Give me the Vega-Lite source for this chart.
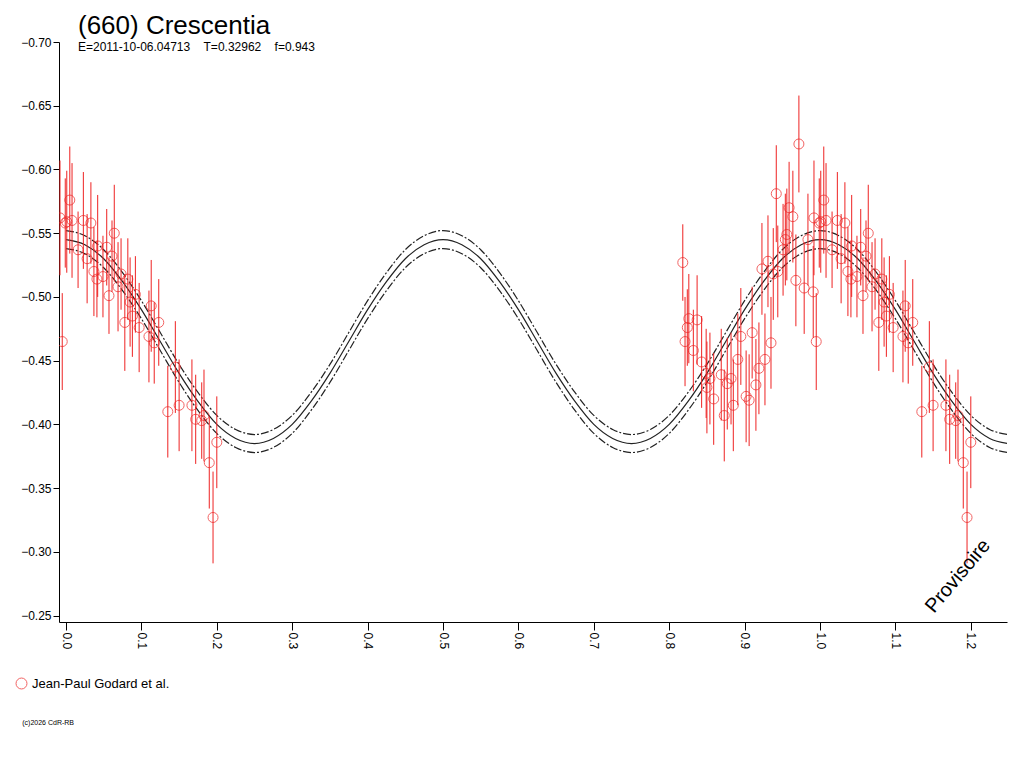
{
"$schema":"https://vega.github.io/schema/vega-lite/v6.json",
"width":948,"height":580,
"autosize":{"type":"none"},
"padding":{"left":59,"top":42,"right":17,"bottom":146},
"background":"white",
"config":{"font":"Liberation Sans","view":{"stroke":null}},
"title":{"text":"(660) Crescentia","subtitle":"E=2011-10-06.04713\u00a0\u00a0\u00a0\u00a0T=0.32962\u00a0\u00a0\u00a0\u00a0f=0.943","anchor":"start","frame":"group","dx":19,"offset":-17,"fontSize":26,"fontWeight":"normal","subtitleFontSize":12,"subtitlePadding":3,"color":"black","subtitleColor":"black"},
"datasets":{
"curve":[
{"x":0,"m":-0.545},{"x":0.025,"m":-0.541},{"x":0.05,"m":-0.530},{"x":0.075,"m":-0.512},{"x":0.1,"m":-0.490},{"x":0.125,"m":-0.465},{"x":0.15,"m":-0.440},{"x":0.175,"m":-0.418},{"x":0.2,"m":-0.400},{"x":0.225,"m":-0.389},
{"x":0.25,"m":-0.385},{"x":0.275,"m":-0.389},{"x":0.3,"m":-0.400},{"x":0.325,"m":-0.418},{"x":0.35,"m":-0.440},{"x":0.375,"m":-0.465},{"x":0.4,"m":-0.490},{"x":0.425,"m":-0.512},{"x":0.45,"m":-0.530},{"x":0.475,"m":-0.541},
{"x":0.5,"m":-0.545},{"x":0.525,"m":-0.541},{"x":0.55,"m":-0.530},{"x":0.575,"m":-0.512},{"x":0.6,"m":-0.490},{"x":0.625,"m":-0.465},{"x":0.65,"m":-0.440},{"x":0.675,"m":-0.418},{"x":0.7,"m":-0.400},{"x":0.725,"m":-0.389},
{"x":0.75,"m":-0.385},{"x":0.775,"m":-0.389},{"x":0.8,"m":-0.400},{"x":0.825,"m":-0.418},{"x":0.85,"m":-0.440},{"x":0.875,"m":-0.465},{"x":0.9,"m":-0.490},{"x":0.925,"m":-0.512},{"x":0.95,"m":-0.530},{"x":0.975,"m":-0.541},
{"x":1.0,"m":-0.545},{"x":1.025,"m":-0.541},{"x":1.05,"m":-0.530},{"x":1.075,"m":-0.512},{"x":1.1,"m":-0.490},{"x":1.125,"m":-0.465},{"x":1.15,"m":-0.440},{"x":1.175,"m":-0.418},{"x":1.2,"m":-0.400},{"x":1.225,"m":-0.389},{"x":1.25,"m":-0.385}
],
"obs":[
{"x":-0.008,"y":-0.562,"e":0.045},{"x":-0.005,"y":-0.465,"e":0.038},{"x":0.005,"y":-0.576,"e":0.042},{"x":-0.001,"y":-0.558,"e":0.035},{"x":0.001,"y":-0.559,"e":0.040},{"x":0.008,"y":-0.560,"e":0.045},{"x":0.023,"y":-0.560,"e":0.038},{"x":0.033,"y":-0.558,"e":0.032},{"x":0.016,"y":-0.537,"e":0.030},{"x":0.028,"y":-0.530,"e":0.035},
{"x":0.042,"y":-0.540,"e":0.040},{"x":0.054,"y":-0.539,"e":0.030},{"x":0.064,"y":-0.550,"e":0.038},{"x":0.061,"y":-0.532,"e":0.028},{"x":0.037,"y":-0.520,"e":0.035},{"x":0.041,"y":-0.514,"e":0.030},{"x":0.049,"y":-0.516,"e":0.032},{"x":0.057,"y":-0.501,"e":0.030},{"x":0.073,"y":-0.518,"e":0.028},{"x":0.082,"y":-0.514,"e":0.032},
{"x":0.069,"y":-0.508,"e":0.035},{"x":0.092,"y":-0.502,"e":0.030},{"x":0.085,"y":-0.496,"e":0.035},{"x":0.078,"y":-0.480,"e":0.038},{"x":0.088,"y":-0.485,"e":0.032},{"x":0.113,"y":-0.493,"e":0.036},{"x":0.097,"y":-0.476,"e":0.035},{"x":0.123,"y":-0.480,"e":0.034},{"x":0.110,"y":-0.469,"e":0.036},{"x":0.117,"y":-0.464,"e":0.032},
{"x":0.145,"y":-0.445,"e":0.036},{"x":0.135,"y":-0.410,"e":0.036},{"x":0.150,"y":-0.415,"e":0.036},{"x":0.167,"y":-0.415,"e":0.036},{"x":0.172,"y":-0.404,"e":0.035},{"x":0.183,"y":-0.407,"e":0.036},{"x":0.180,"y":-0.403,"e":0.030},{"x":0.200,"y":-0.386,"e":0.036},{"x":0.190,"y":-0.370,"e":0.036},{"x":0.195,"y":-0.327,"e":0.036},
{"x":0.992,"y":-0.562,"e":0.045},{"x":0.995,"y":-0.465,"e":0.038},{"x":1.005,"y":-0.576,"e":0.042},{"x":0.999,"y":-0.558,"e":0.035},{"x":1.001,"y":-0.559,"e":0.040},{"x":1.008,"y":-0.560,"e":0.045},{"x":1.023,"y":-0.560,"e":0.038},{"x":1.033,"y":-0.558,"e":0.032},{"x":1.016,"y":-0.537,"e":0.030},{"x":1.028,"y":-0.530,"e":0.035},
{"x":1.042,"y":-0.540,"e":0.040},{"x":1.054,"y":-0.539,"e":0.030},{"x":1.064,"y":-0.550,"e":0.038},{"x":1.061,"y":-0.532,"e":0.028},{"x":1.037,"y":-0.520,"e":0.035},{"x":1.041,"y":-0.514,"e":0.030},{"x":1.049,"y":-0.516,"e":0.032},{"x":1.057,"y":-0.501,"e":0.030},{"x":1.073,"y":-0.518,"e":0.028},{"x":1.082,"y":-0.514,"e":0.032},
{"x":1.069,"y":-0.508,"e":0.035},{"x":1.092,"y":-0.502,"e":0.030},{"x":1.085,"y":-0.496,"e":0.035},{"x":1.078,"y":-0.480,"e":0.038},{"x":1.088,"y":-0.485,"e":0.032},{"x":1.113,"y":-0.493,"e":0.036},{"x":1.097,"y":-0.476,"e":0.035},{"x":1.123,"y":-0.480,"e":0.034},{"x":1.110,"y":-0.469,"e":0.036},{"x":1.117,"y":-0.464,"e":0.032},
{"x":1.145,"y":-0.445,"e":0.036},{"x":1.135,"y":-0.410,"e":0.036},{"x":1.150,"y":-0.415,"e":0.036},{"x":1.167,"y":-0.415,"e":0.036},{"x":1.172,"y":-0.404,"e":0.035},{"x":1.183,"y":-0.407,"e":0.036},{"x":1.180,"y":-0.403,"e":0.030},{"x":1.200,"y":-0.386,"e":0.036},{"x":1.190,"y":-0.370,"e":0.036},{"x":1.195,"y":-0.327,"e":0.036},
{"x":0.818,"y":-0.527,"e":0.030},{"x":0.826,"y":-0.483,"e":0.035},{"x":0.824,"y":-0.476,"e":0.030},{"x":0.837,"y":-0.482,"e":0.035},{"x":0.821,"y":-0.465,"e":0.035},{"x":0.832,"y":-0.458,"e":0.032},{"x":0.843,"y":-0.449,"e":0.036},{"x":0.849,"y":-0.440,"e":0.035},{"x":0.854,"y":-0.436,"e":0.036},{"x":0.850,"y":-0.429,"e":0.036},
{"x":0.869,"y":-0.439,"e":0.036},{"x":0.859,"y":-0.420,"e":0.036},{"x":0.877,"y":-0.432,"e":0.036},{"x":0.882,"y":-0.436,"e":0.036},{"x":0.873,"y":-0.407,"e":0.036},{"x":0.885,"y":-0.415,"e":0.036},{"x":0.891,"y":-0.451,"e":0.036},{"x":0.895,"y":-0.469,"e":0.038},{"x":0.902,"y":-0.422,"e":0.036},{"x":0.906,"y":-0.419,"e":0.036},
{"x":0.910,"y":-0.472,"e":0.036},{"x":0.915,"y":-0.431,"e":0.036},{"x":0.919,"y":-0.444,"e":0.036},{"x":0.927,"y":-0.451,"e":0.036},{"x":0.935,"y":-0.464,"e":0.036},{"x":0.923,"y":-0.522,"e":0.036},{"x":0.931,"y":-0.528,"e":0.036},{"x":0.938,"y":-0.518,"e":0.036},{"x":0.942,"y":-0.581,"e":0.038},{"x":0.944,"y":-0.520,"e":0.036},
{"x":0.951,"y":-0.537,"e":0.036},{"x":0.954,"y":-0.545,"e":0.036},{"x":0.956,"y":-0.549,"e":0.036},{"x":0.959,"y":-0.570,"e":0.036},{"x":0.964,"y":-0.563,"e":0.036},{"x":0.968,"y":-0.513,"e":0.036},{"x":0.972,"y":-0.620,"e":0.038},{"x":0.979,"y":-0.507,"e":0.036},{"x":0.984,"y":-0.545,"e":0.036},{"x":0.991,"y":-0.504,"e":0.036}
],
"notes":[{"x":1.183,"y":-0.281,"t":"Provisoire","k":"p"},{"x":-0.058,"y":-0.166,"t":"(c)2026 CdR-RB","k":"c"}]
},
"layer":[
{"data":{"name":"curve"},"mark":{"type":"line","color":"#222","strokeWidth":1.2,"strokeDash":[8,2,2,2],"clip":true,"interpolate":"monotone"},"encoding":{"x":{"field":"x","type":"quantitative"},"y":{"field":"m","type":"quantitative"},"yOffset":{"value":-9}}},
{"data":{"name":"curve"},"mark":{"type":"line","color":"#222","strokeWidth":1.2,"clip":true,"interpolate":"monotone"},"encoding":{"x":{"field":"x","type":"quantitative"},"y":{"field":"m","type":"quantitative"}}},
{"data":{"name":"curve"},"mark":{"type":"line","color":"#222","strokeWidth":1.2,"strokeDash":[8,2,2,2],"clip":true,"interpolate":"monotone"},"encoding":{"x":{"field":"x","type":"quantitative"},"y":{"field":"m","type":"quantitative"},"yOffset":{"value":9}}},
{"data":{"name":"obs"},"mark":{"type":"errorbar","color":"#ee2222","clip":true,"rule":{"strokeWidth":1}},"encoding":{"x":{"field":"x","type":"quantitative"},"y":{"field":"y","type":"quantitative"},"yError":{"field":"e"}}},
{"data":{"name":"obs"},"mark":{"type":"point","shape":"circle","filled":false,"size":100,"strokeWidth":1,"clip":true},"encoding":{
 "x":{"field":"x","type":"quantitative","scale":{"domain":[-0.0093,1.248],"nice":false,"zero":false},
  "axis":{"values":[0,0.05,0.1,0.15,0.2,0.25,0.3,0.35,0.4,0.45,0.5,0.55,0.6,0.65,0.7,0.75,0.8,0.85,0.9,0.95,1.0,1.05,1.1,1.15,1.2],"labelExpr":"round(datum.value*100)%10==0 ? format(datum.value,'.1f') : ''","labelAngle":90,"labelAlign":"left","labelBaseline":"middle","title":null,"grid":false,"domainColor":"black","tickColor":"black","labelColor":"black","labelFontSize":12,"tickSize":8,"labelPadding":2}},
 "y":{"field":"y","type":"quantitative","scale":{"domain":[-0.70,-0.245],"reverse":true,"nice":false,"zero":false},
  "axis":{"values":[-0.70,-0.65,-0.60,-0.55,-0.50,-0.45,-0.40,-0.35,-0.30,-0.25],"format":".2f","title":null,"grid":false,"domainColor":"black","tickColor":"black","labelColor":"black","labelFontSize":12,"tickSize":6,"labelPadding":2}},
 "color":{"datum":"Jean-Paul Godard et al.","type":"nominal","scale":{"range":["#ee2222"]},"legend":{"title":null,"orient":"none","legendX":-44,"legendY":635,"labelFontSize":13,"labelColor":"black","symbolSize":120,"symbolStrokeWidth":1}}}},
{"data":{"name":"notes"},"transform":[{"filter":"datum.k=='p'"}],"mark":{"type":"text","angle":-50,"fontSize":20,"align":"center","color":"black"},"encoding":{"x":{"field":"x","type":"quantitative"},"y":{"field":"y","type":"quantitative"},"text":{"field":"t"}}},
{"data":{"name":"notes"},"transform":[{"filter":"datum.k=='c'"}],"mark":{"type":"text","fontSize":7,"align":"left","color":"black","clip":false},"encoding":{"x":{"field":"x","type":"quantitative"},"y":{"field":"y","type":"quantitative"},"text":{"field":"t"}}}
]
}
